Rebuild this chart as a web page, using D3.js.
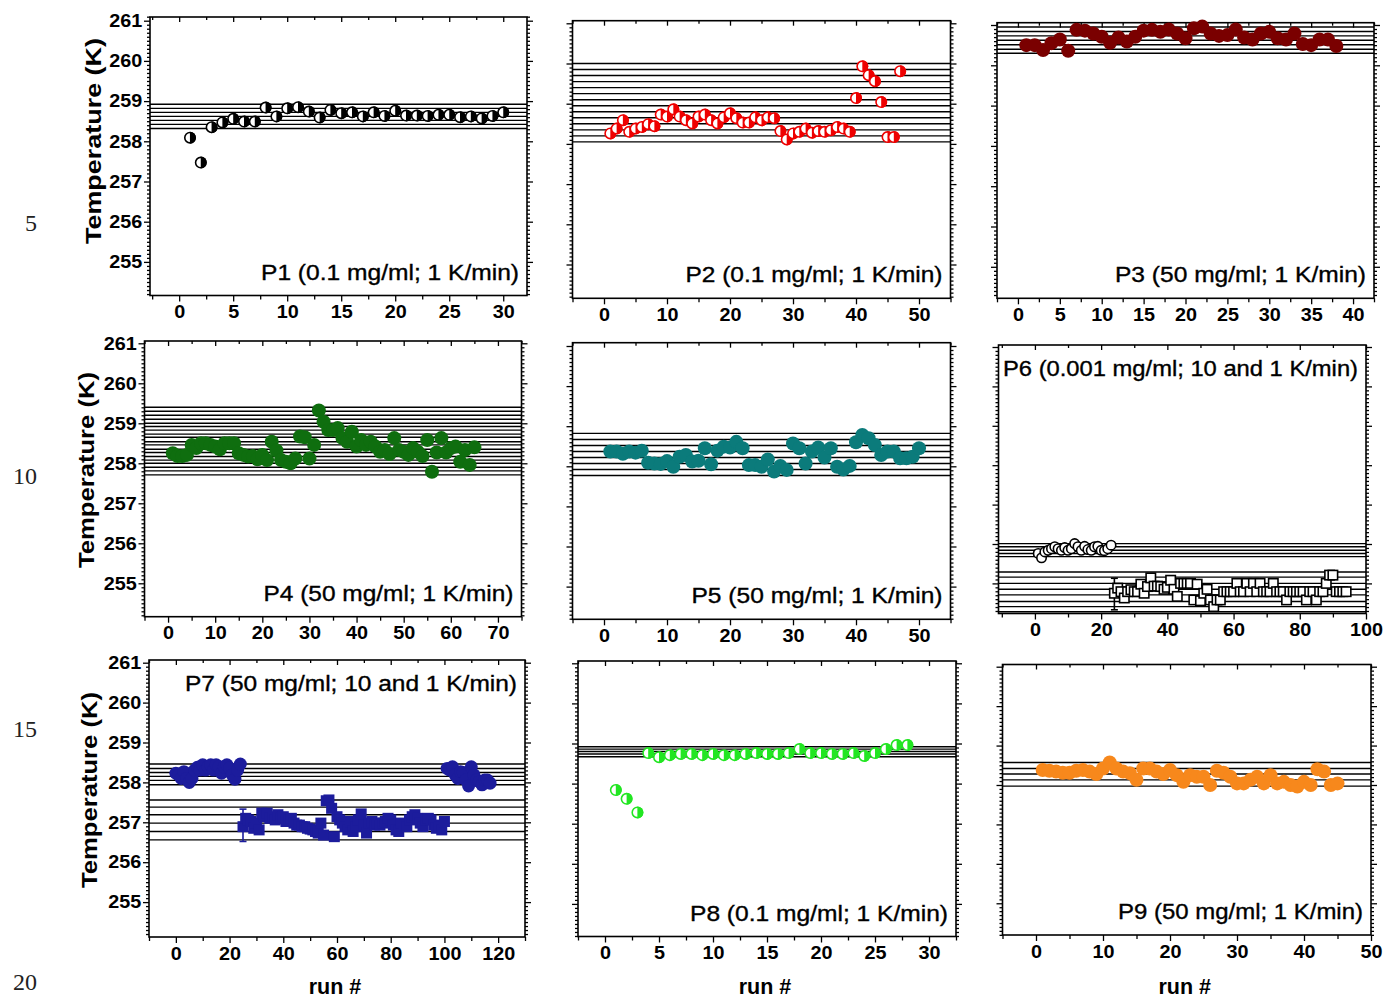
<!DOCTYPE html>
<html><head><meta charset="utf-8">
<script src="https://cdn.jsdelivr.net/npm/d3@7"></script>
<style>body{margin:0;background:#fff}svg{display:block}</style>
</head><body>
<svg id="c" width="1384" height="999"></svg>
<script>
// ---------------- DATA ----------------
const yTickValues = [255, 256, 257, 258, 259, 260, 261];

const p1Start = 1;
const p1Temp = [258.09,257.47,258.35,258.47,258.56,258.49,258.49,258.84,258.62,258.82,258.85,258.74,258.59,258.78,258.70,258.72,258.62,258.72,258.63,258.76,258.64,258.64,258.63,258.66,258.66,258.60,258.62,258.57,258.63,258.72];
const p1Lines = [258.92,258.82,258.72,258.62,258.52,258.42,258.32];

const p2Start = 1;
const p2Temp = [258.26,258.38,258.59,258.30,258.38,258.42,258.49,258.44,258.73,258.68,258.86,258.68,258.59,258.51,258.68,258.73,258.59,258.51,258.66,258.76,258.64,258.53,258.53,258.66,258.59,258.66,258.64,258.32,258.11,258.26,258.30,258.38,258.28,258.32,258.30,258.34,258.42,258.38,258.30,259.14,259.93,259.71,259.56,259.04,258.17,258.17,259.81];
const p2Lines = [260.00,259.85,259.70,259.55,259.40,259.25,259.10,258.95,258.80,258.65,258.50,258.35,258.20,258.05];

const p3Start = 1;
const p3Temp = [260.50,260.50,260.38,260.55,260.64,260.36,260.88,260.86,260.79,260.71,260.56,260.69,260.59,260.71,260.86,260.88,260.83,260.89,260.79,260.67,260.92,260.96,260.79,260.73,260.75,260.89,260.69,260.64,260.79,260.83,260.67,260.64,260.79,260.53,260.50,260.64,260.64,260.48];
const p3Lines = [260.95,260.84,260.73,260.62,260.51,260.40,260.30];

const p4Start = 1;
const p4Temp = [258.25,258.18,258.18,258.21,258.46,258.38,258.50,258.50,258.46,258.42,258.35,258.50,258.50,258.50,258.25,258.21,258.17,258.18,258.10,258.21,258.08,258.54,258.32,258.08,258.04,258.00,258.12,258.67,258.65,258.12,258.46,259.32,259.04,258.83,258.83,258.88,258.63,258.54,258.79,258.42,258.58,258.46,258.54,258.42,258.29,258.33,258.23,258.63,258.33,258.29,258.21,258.38,258.29,258.18,258.58,257.79,258.27,258.63,258.27,258.38,258.42,258.04,258.33,257.96,258.40];
const p4Lines = [259.40,259.30,259.20,259.10,259.00,258.92,258.83,258.73,258.65,258.54,258.46,258.35,258.27,258.17,258.08,258.00,257.90,257.81,257.71];

const p5Start = 1;
const p5Temp = [258.37,258.37,258.31,258.37,258.34,258.39,258.09,258.07,258.06,258.13,257.99,258.24,258.28,258.12,258.14,258.45,258.05,258.39,258.49,258.47,258.61,258.45,258.03,258.03,257.99,258.17,257.87,258.01,257.91,258.57,258.45,258.07,258.37,258.47,258.22,258.45,257.99,257.92,258.01,258.60,258.78,258.70,258.53,258.28,258.37,258.37,258.20,258.20,258.24,258.45];
const p5Lines = [258.82,258.67,258.52,258.37,258.22,258.07,257.92,257.77];

const p6CircStart = 1;
const p6CircTemp = [255.76,255.65,255.80,255.84,255.88,255.93,255.88,255.84,255.91,255.84,255.88,256.01,255.93,255.84,255.94,255.86,255.84,255.93,255.94,255.84,255.83,255.88,255.97];
const p6SqStart = 24;
const p6SqTemp = [254.75,254.88,254.79,254.63,254.79,254.84,254.79,254.79,254.98,254.75,254.92,255.14,254.93,254.93,254.92,254.85,254.90,255.08,254.85,254.67,255.00,255.00,255.00,255.00,254.58,254.98,254.56,254.75,254.85,254.58,254.41,254.58,254.58,254.79,254.79,254.79,254.79,255.00,254.79,254.79,255.00,254.79,255.00,254.79,255.00,254.79,254.79,254.79,255.00,254.79,254.79,254.79,254.58,254.79,254.79,254.79,254.79,254.79,254.58,254.79,254.79,254.58,254.79,254.79,255.00,255.21,255.21,254.79,254.79,254.79,254.79];
const p6ErrRun = [24], p6ErrLo = [254.33], p6ErrHi = [255.13];
const p6Lines = [256.01,255.93,255.84,255.76,255.68,255.29,255.16,255.00,254.85,254.71,254.54,254.41,254.28];

const p7CircAStart = 0;
const p7CircATemp = [258.23,258.19,258.10,258.27,258.10,258.00,258.10,258.31,258.38,258.31,258.44,258.31,258.39,258.44,258.31,258.44,258.39,258.23,258.39,258.44,258.36,258.19,258.08,258.31,258.46];
const p7SqStart = 25;
const p7SqTemp = [256.89,257.10,257.06,257.02,256.85,256.98,256.81,257.23,257.14,257.23,257.10,257.14,257.06,257.19,257.10,257.14,257.02,257.06,257.10,256.98,256.93,256.93,256.89,256.89,256.85,256.83,256.81,256.77,256.73,256.98,256.68,257.54,257.56,257.35,256.64,257.14,257.06,256.98,256.89,256.81,257.02,256.77,256.89,257.06,257.21,256.93,256.73,256.98,257.02,256.93,256.98,256.93,256.98,257.02,257.10,257.06,256.93,256.81,256.77,256.98,256.93,256.89,257.06,257.14,257.19,257.10,256.98,256.89,257.06,257.10,257.06,256.93,256.85,256.89,256.81,257.02];
const p7CircCStart = 101;
const p7CircCTemp = [258.35,258.31,258.39,258.19,258.10,258.27,258.25,258.06,257.91,258.39,258.19,258.06,258.02,257.94,258.06,258.06,257.98];
const p7ErrRun = [25], p7ErrLo = [256.52], p7ErrHi = [257.33];
const p7Lines = [258.46,258.35,258.25,258.15,258.05,257.94,257.56,257.38,257.19,256.98,256.77,256.56];

const p8Start = 1;
const p8Temp = [257.84,257.62,257.28,258.76,258.66,258.71,258.74,258.74,258.71,258.74,258.71,258.71,258.74,258.76,258.74,258.74,258.76,258.86,258.76,258.76,258.74,258.74,258.76,258.69,258.76,258.86,258.96,258.96];
const p8Lines = [258.92,258.86,258.80,258.74,258.67];

const p9Start = 1;
const p9Temp = [258.38,258.36,258.34,258.31,258.31,258.36,258.38,258.34,258.28,258.42,258.57,258.42,258.34,258.30,258.13,258.42,258.42,258.34,258.28,258.38,258.25,258.08,258.25,258.21,258.21,258.00,258.36,258.31,258.21,258.04,258.04,258.13,258.21,258.04,258.25,258.04,258.08,258.00,257.96,258.08,258.00,258.40,258.34,258.00,258.04];
const p9Lines = [258.57,258.42,258.28,258.13,257.97];

const panelLabels = ["P1 (0.1 mg/ml; 1 K/min)","P2 (0.1 mg/ml; 1 K/min)","P3 (50 mg/ml; 1 K/min)",
  "P4 (50 mg/ml; 1 K/min)","P5 (50 mg/ml; 1 K/min)","P6 (0.001 mg/ml; 10 and 1 K/min)",
  "P7 (50 mg/ml; 10 and 1 K/min)","P8 (0.1 mg/ml; 1 K/min)","P9 (50 mg/ml; 1 K/min)"];
const yTitle = "Temperature (K)";
const xTitle = "run #";
const marginNumbers = ["5","10","15","20"];

// ---------------- LAYOUT / STYLE ----------------
const mk = (start, temps) => temps.map((t, i) => ({run: start + i, t}));
const errs = (runs, lo, hi) => runs.map((r, i) => ({run: r, lo: lo[i], hi: hi[i]}));

const panels = [
  {left:150, right:527, top:17, bottom:295.5, y261:20.7, k:40.2, xDomain:[-2.7,32.2], xStep:5, yLabels:true, lines:p1Lines,
   label:panelLabels[0], labelPos:"bottom", labelLen:258,
   series:[{data:mk(p1Start,p1Temp), shape:"half", color:"#000", r:6}]},
  {left:572.5, right:950.5, top:20.7, bottom:298.3, y261:23.3, k:40.2, xDomain:[-5,55], xStep:10, yLabels:false, lines:p2Lines,
   label:panelLabels[1], labelPos:"bottom", labelLen:257,
   series:[{data:mk(p2Start,p2Temp), shape:"half", color:"#ee0000", r:6}]},
  {left:997, right:1374, top:22.7, bottom:298.3, y261:25, k:40.3, xDomain:[-2.5,42.5], xStep:5, yLabels:false, lines:p3Lines,
   label:panelLabels[2], labelPos:"bottom", labelLen:251,
   series:[{data:mk(p3Start,p3Temp), shape:"circle", color:"#7a0000", r:7}]},
  {left:144.5, right:521.5, top:341, bottom:616.7, y261:343.3, k:40, xDomain:[-5,75], xStep:10, yLabels:true, lines:p4Lines,
   label:panelLabels[3], labelPos:"bottom", labelLen:250,
   series:[{data:mk(p4Start,p4Temp), shape:"circle", color:"#0f6e0f", r:7}]},
  {left:572.5, right:950.5, top:342.7, bottom:619.3, y261:346, k:40.1, xDomain:[-5,55], xStep:10, yLabels:false, lines:p5Lines,
   label:panelLabels[4], labelPos:"bottom", labelLen:251,
   series:[{data:mk(p5Start,p5Temp), shape:"circle", color:"#0b7b7b", r:7}]},
  {left:998.5, right:1366, top:345, bottom:613.5, y261:347, k:39.4, xDomain:[-11,100], xStep:20, yLabels:false, lines:p6Lines,
   label:panelLabels[5], labelPos:"top", labelLen:355,
   errors:{data:errs(p6ErrRun,p6ErrLo,p6ErrHi), color:"#000"},
   series:[{data:mk(p6CircStart,p6CircTemp), shape:"opencircle", color:"#000", r:5.5},
           {data:mk(p6SqStart,p6SqTemp), shape:"opensquare", color:"#000", r:5.5}]},
  {left:149, right:525, top:660, bottom:937, y261:662.7, k:39.9, xDomain:[-10,130], xStep:20, yLabels:true, lines:p7Lines,
   label:panelLabels[6], labelPos:"top", labelLen:332, runTitle:true,
   errors:{data:errs(p7ErrRun,p7ErrLo,p7ErrHi), color:"#1c1c9c"},
   series:[{data:mk(p7CircAStart,p7CircATemp), shape:"circle", color:"#1c1c9c", r:6.5},
           {data:mk(p7SqStart,p7SqTemp), shape:"square", color:"#1c1c9c", r:5.5},
           {data:mk(p7CircCStart,p7CircCTemp), shape:"circle", color:"#1c1c9c", r:6.5}]},
  {left:578, right:956, top:661, bottom:936.5, y261:663.3, k:40.1, xDomain:[-2.5,32.5], xStep:5, yLabels:false, lines:p8Lines,
   label:panelLabels[7], labelPos:"bottom", labelLen:258, runTitle:true,
   series:[{data:mk(p8Start,p8Temp), shape:"half", color:"#22e622", r:6}]},
  {left:1002.5, right:1371, top:664.5, bottom:935, y261:666.7, k:39.43, xDomain:[-5,50], xStep:10, yLabels:false, lines:p9Lines,
   label:panelLabels[8], labelPos:"bottom", labelLen:245, runTitle:true,
   series:[{data:mk(p9Start,p9Temp), shape:"circle", color:"#f7881c", r:7}]}
];

const yTitles = [{x:101, y:141, len:206},{x:94, y:470, len:196},{x:97, y:790, len:196}];
const marginPos = [{x:31,y:231},{x:25,y:484},{x:25,y:737},{x:25,y:990}];

const svg = d3.select("#c");
const FONT = "'Liberation Sans', Arial, Helvetica, sans-serif";

function styleAxis(sel) {
  sel.select(".domain").remove();
  sel.selectAll("line").attr("stroke", "#000").attr("stroke-width", 1.3);
  sel.attr("font-family", FONT).attr("font-size", 18).attr("font-weight", "bold");
  sel.selectAll("text").attr("fill", "#000").attr("transform", "scale(1.1,1)");
}

panels.forEach(p => {
  const top = p.top, bottom = p.bottom;
  const x = d3.scaleLinear().domain(p.xDomain).range([p.left, p.right]);
  const y = d3.scaleLinear().domain([255, 261]).range([p.y261 + 6 * p.k, p.y261]);
  const inY = v => y(v) >= top - 0.5 && y(v) <= bottom + 0.5;
  const g = svg.append("g");

  // horizontal reference lines
  g.selectAll("line.hl").data(p.lines).join("line").attr("class","hl")
    .attr("x1", p.left).attr("x2", p.right)
    .attr("y1", d => y(d)).attr("y2", d => y(d))
    .attr("stroke", "#000").attr("stroke-width", 1.4);

  // ticks
  const half = p.xStep / 2;
  const xMajor = d3.range(Math.ceil(p.xDomain[0] / p.xStep) * p.xStep, p.xDomain[1] + 1e-9, p.xStep).map(v => v + 0);
  const xMinor = d3.range(Math.ceil(p.xDomain[0] / half) * half, p.xDomain[1] + 1e-9, half)
    .filter(v => Math.abs(v / p.xStep - Math.round(v / p.xStep)) > 1e-6);
  const yMajor = yTickValues.filter(inY);
  const yMinor = d3.range(2540, 2612, 1).map(v => v / 10)
    .filter(v => Math.abs(v - Math.round(v)) > 1e-6).filter(inY);

  const gb = g.append("g").attr("transform", `translate(0,${bottom})`)
    .call(d3.axisBottom(x).tickValues(xMajor).tickSize(6).tickPadding(4).tickFormat(d3.format("d")));
  styleAxis(gb);
  const gbm = g.append("g").attr("transform", `translate(0,${bottom})`)
    .call(d3.axisBottom(x).tickValues(xMinor).tickSize(4).tickFormat(""));
  styleAxis(gbm);
  const gt = g.append("g").attr("transform", `translate(0,${top})`)
    .call(d3.axisTop(x).tickValues(xMajor).tickSize(-5).tickFormat(""));
  styleAxis(gt);
  const gtm = g.append("g").attr("transform", `translate(0,${top})`)
    .call(d3.axisTop(x).tickValues(xMinor).tickSize(-3).tickFormat(""));
  styleAxis(gtm);

  const gl = g.append("g").attr("transform", `translate(${p.left},0)`)
    .call(d3.axisLeft(y).tickValues(yMajor).tickSize(6).tickPadding(1)
      .tickFormat(p.yLabels ? d3.format("d") : ""));
  styleAxis(gl);
  const glm = g.append("g").attr("transform", `translate(${p.left},0)`)
    .call(d3.axisLeft(y).tickValues(yMinor).tickSize(3).tickFormat(""));
  styleAxis(glm);
  const gr = g.append("g").attr("transform", `translate(${p.right},0)`)
    .call(d3.axisRight(y).tickValues(yMajor).tickSize(6).tickFormat(""));
  styleAxis(gr);
  const grm = g.append("g").attr("transform", `translate(${p.right},0)`)
    .call(d3.axisRight(y).tickValues(yMinor).tickSize(3).tickFormat(""));
  styleAxis(grm);

  // frame
  g.append("rect").attr("x", p.left).attr("y", top)
    .attr("width", p.right - p.left).attr("height", bottom - top)
    .attr("fill", "none").attr("stroke", "#000").attr("stroke-width", 1.6);

  // error bars
  if (p.errors) {
    const eg = g.append("g").attr("stroke", p.errors.color).attr("stroke-width", 1.6);
    p.errors.data.forEach(e => {
      eg.append("line").attr("x1", x(e.run)).attr("x2", x(e.run)).attr("y1", y(e.lo)).attr("y2", y(e.hi));
      eg.append("line").attr("x1", x(e.run) - 3.5).attr("x2", x(e.run) + 3.5).attr("y1", y(e.lo)).attr("y2", y(e.lo));
      eg.append("line").attr("x1", x(e.run) - 3.5).attr("x2", x(e.run) + 3.5).attr("y1", y(e.hi)).attr("y2", y(e.hi));
    });
  }

  // series
  p.series.forEach(s => {
    const sg = g.append("g");
    const pts = sg.selectAll("g.pt").data(s.data).join("g").attr("class","pt")
      .attr("transform", d => `translate(${x(d.run)},${y(d.t)})`);
    if (s.shape === "circle") {
      pts.append("circle").attr("r", s.r).attr("fill", s.color);
    } else if (s.shape === "opencircle") {
      pts.append("circle").attr("r", s.r - 0.8).attr("fill", "#fff").attr("stroke", s.color).attr("stroke-width", 1.6);
    } else if (s.shape === "half") {
      pts.append("circle").attr("r", s.r - 0.8).attr("fill", "#fff").attr("stroke", s.color).attr("stroke-width", 1.6);
      pts.append("path").attr("d", d3.arc()({innerRadius:0, outerRadius:s.r, startAngle:0, endAngle:Math.PI}))
        .attr("fill", s.color);
    } else if (s.shape === "square") {
      pts.append("rect").attr("x", -s.r).attr("y", -s.r).attr("width", 2*s.r).attr("height", 2*s.r).attr("fill", s.color);
    } else if (s.shape === "opensquare") {
      pts.append("rect").attr("x", -s.r + 0.8).attr("y", -s.r + 0.8).attr("width", 2*s.r - 1.6).attr("height", 2*s.r - 1.6)
        .attr("fill", "#fff").attr("stroke", s.color).attr("stroke-width", 1.6);
    }
  });

  // panel label
  const ly = p.labelPos === "bottom" ? bottom - 16 : top + 31;
  g.append("text").attr("x", p.right - 8).attr("y", ly).attr("text-anchor", "end")
    .attr("font-family", FONT).attr("font-size", 21.5)
    .attr("textLength", p.labelLen).attr("lengthAdjust", "spacingAndGlyphs")
    .attr("fill", "#000").attr("stroke", "#000").attr("stroke-width", 0.35).text(p.label);

  if (p.runTitle) {
    g.append("text").attr("x", (p.left + p.right) / 2 - 2).attr("y", 994).attr("text-anchor", "middle")
      .attr("font-family", FONT).attr("font-size", 21.5).attr("font-weight", "bold")
      .attr("fill", "#000").text(xTitle);
  }
});

yTitles.forEach(t => {
  svg.append("text").attr("transform", `translate(${t.x},${t.y}) rotate(-90)`)
    .attr("text-anchor", "middle").attr("font-family", FONT).attr("font-size", 22).attr("font-weight", "bold")
    .attr("textLength", t.len).attr("lengthAdjust", "spacingAndGlyphs")
    .attr("fill", "#000").text(yTitle);
});

marginNumbers.forEach((m, i) => {
  svg.append("text").attr("x", marginPos[i].x).attr("y", marginPos[i].y).attr("text-anchor", "middle")
    .attr("font-family", "'Liberation Serif', 'Times New Roman', serif").attr("font-size", 24)
    .attr("fill", "#222").text(m);
});
</script>
</body></html>
